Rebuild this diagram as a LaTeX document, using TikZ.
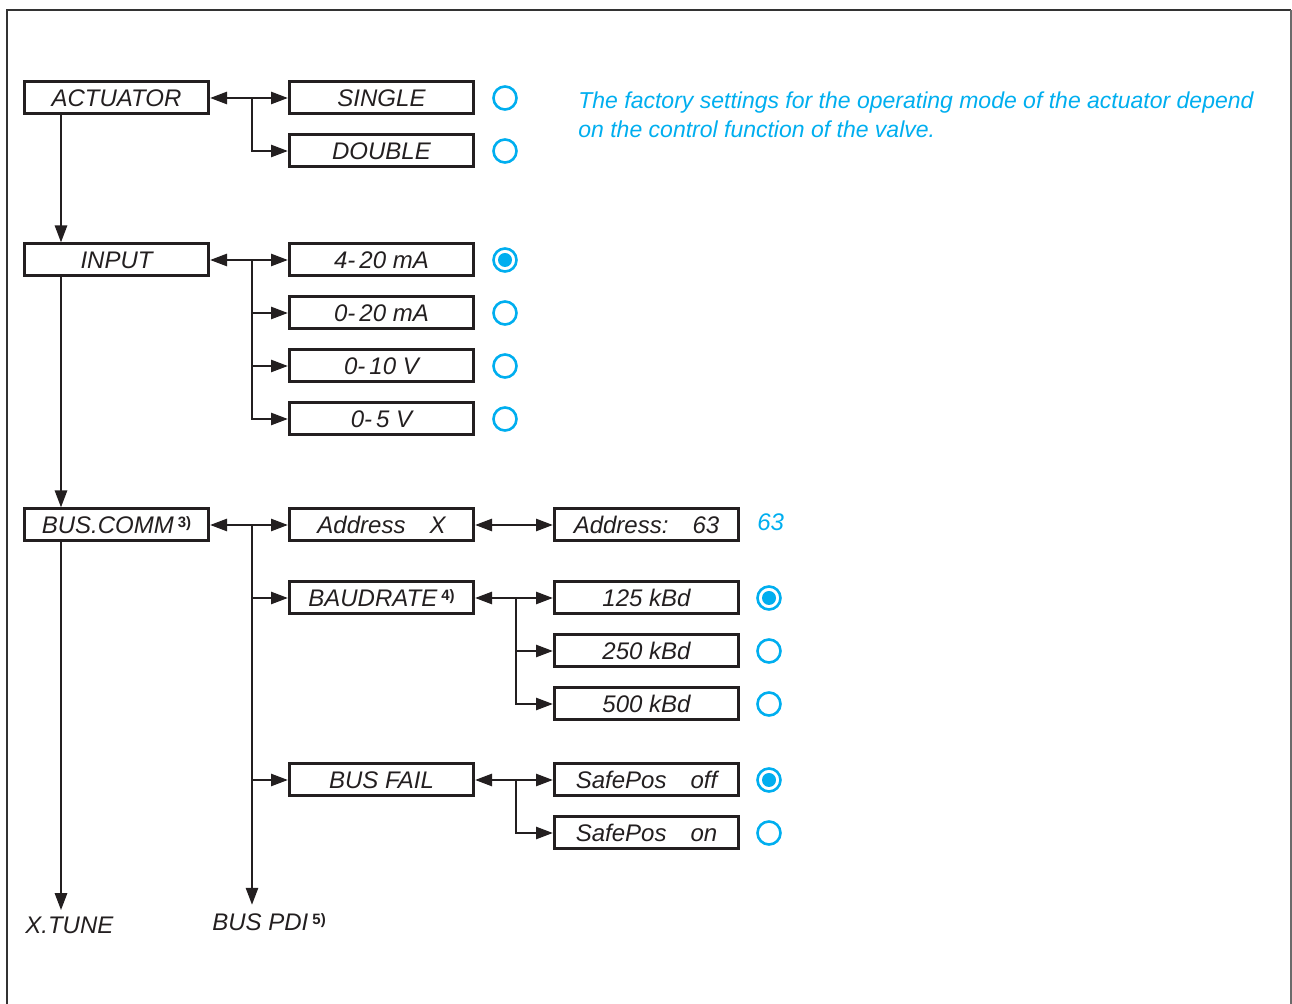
\documentclass[tikz,border=0pt]{standalone}
\usepackage{fontspec}
\setmainfont{Liberation Sans}
\usetikzlibrary{arrows.meta}
\definecolor{mnuInk}{HTML}{231F20}
\definecolor{mnuBlue}{HTML}{00AEEF}
\definecolor{mnuFrame}{HTML}{333333}
\definecolor{mnuEdge}{HTML}{6B6B6B}
\tikzset{
  >={Triangle[length=8.5pt,width=6pt]},
  mnu box/.style={draw=mnuInk, line width=1.5pt, minimum width=92pt, minimum height=16pt, inner sep=0pt, font=\itshape\fontsize{12}{12}\selectfont, text=mnuInk},
  mnu link/.style={draw=mnuInk, line width=1.3pt},
  mnu radio/.style={circle, draw=mnuBlue, line width=1.3pt, minimum size=11.5pt, inner sep=0pt},
  mnu set/.style={mnu radio, path picture={\fill[mnuBlue] (path picture bounding box.center) circle (3.5pt);}},
  mnu label/.style={font=\itshape\fontsize{12}{12}\selectfont, text=mnuInk, anchor=west, inner sep=0pt},
  mnu note/.style={font=\itshape\fontsize{11.5}{14.5}\selectfont, text=mnuBlue, anchor=north west, inner sep=0pt, align=left},
}
\newcommand{\mnuFn}[1]{\,\raisebox{0.5ex}{\upshape\bfseries\fontsize{7.5}{7.5}\selectfont #1}}

\begin{document}
\begin{tikzpicture}[x=0.5pt,y=-0.5pt]
\useasboundingbox (0,0) rectangle (1292,1004);
\draw[mnuFrame,line width=1.1pt](7,1004)--(7,10)--(1291,10);
\draw[mnuEdge,line width=0.8pt](1291,10)--(1291,1004);
% first level
\node[mnu box](act)at(116.5,98){ACTUATOR};\node[mnu box](input)at(116.5,260){INPUT};
\node[mnu box](bus)at(116.5,525){BUS.COMM\mnuFn{3)}};
\node[mnu label](xtune)at(25,925){X.TUNE};\node[mnu label](buspdi)at(212,922){BUS PDI\mnuFn{5)}};
\coordinate(spine)at(61,0);\coordinate(trunk)at(252,0);\coordinate(twig)at(516,0);
\draw[mnu link,->](act.south-|spine)--(input.north-|spine);
\draw[mnu link,->](input.south-|spine)--(bus.north-|spine);
\draw[mnu link,->,shorten >=3pt](bus.south-|spine)--(xtune.north-|spine);
% actuator
\node[mnu box](single)at(381.5,98){SINGLE};\node[mnu box](double)at(381.5,151){DOUBLE};
\node[mnu radio](rSingle)at(505,98){};\node[mnu radio](rDouble)at(505,151){};
\draw[mnu link,<->](act)--(single);\draw[mnu link,->](single.west-|trunk)|-(double);
% input
\node[mnu box](ma4)at(381.5,260){4-\,20 mA};\node[mnu box](ma0)at(381.5,313){0-\,20 mA};
\node[mnu box](v10)at(381.5,366){0-\,10 V};\node[mnu box](v5)at(381.5,419){0-\,5 V};
\node[mnu set](rMa4)at(505,260){};\node[mnu radio](rMa0)at(505,313){};
\node[mnu radio](rV10)at(505,366){};\node[mnu radio](rV5)at(505,419){};
\draw[mnu link,<->](input)--(ma4);
\foreach \opt in {ma0,v10,v5}\draw[mnu link,->](ma4.west-|trunk)|-(\opt);
% bus communication
\node[mnu box](addr)at(381.5,525){Address\quad X};\node[mnu box](addrSet)at(646.5,525){Address:\quad 63};
\node[mnu label,text=mnuBlue](addrVal)at(757,522){63};
\node[mnu box](baud)at(381.5,598){BAUDRATE\mnuFn{4)}};\node[mnu box](busfail)at(381.5,780){BUS FAIL};
\draw[mnu link,<->](bus)--(addr);\draw[mnu link,<->](addr)--(addrSet);
\draw[mnu link,->](addr.west-|trunk)|-(baud);\draw[mnu link,->](addr.west-|trunk)|-(busfail);
\draw[mnu link,->,shorten >=4pt](addr.west-|trunk)--(buspdi.north-|trunk);
% baudrate
\node[mnu box](k125)at(646.5,598){125 kBd};\node[mnu box](k250)at(646.5,651){250 kBd};
\node[mnu box](k500)at(646.5,704){500 kBd};
\node[mnu set](rK125)at(769,598){};\node[mnu radio](rK250)at(769,651){};\node[mnu radio](rK500)at(769,704){};
\draw[mnu link,<->](baud)--(k125);
\foreach \opt in {k250,k500}\draw[mnu link,->](k125.west-|twig)|-(\opt);
% bus fail
\node[mnu box](safeOff)at(646.5,780){SafePos\quad off};\node[mnu box](safeOn)at(646.5,833){SafePos\quad on};
\node[mnu set](rOff)at(769,780){};\node[mnu radio](rOn)at(769,833){};
\draw[mnu link,<->](busfail)--(safeOff);\draw[mnu link,->](safeOff.west-|twig)|-(safeOn);
\node[mnu note](note)at(578,91){The factory settings for the operating mode of the actuator depend\\on the control function of the valve.};
\end{tikzpicture}
\end{document}
